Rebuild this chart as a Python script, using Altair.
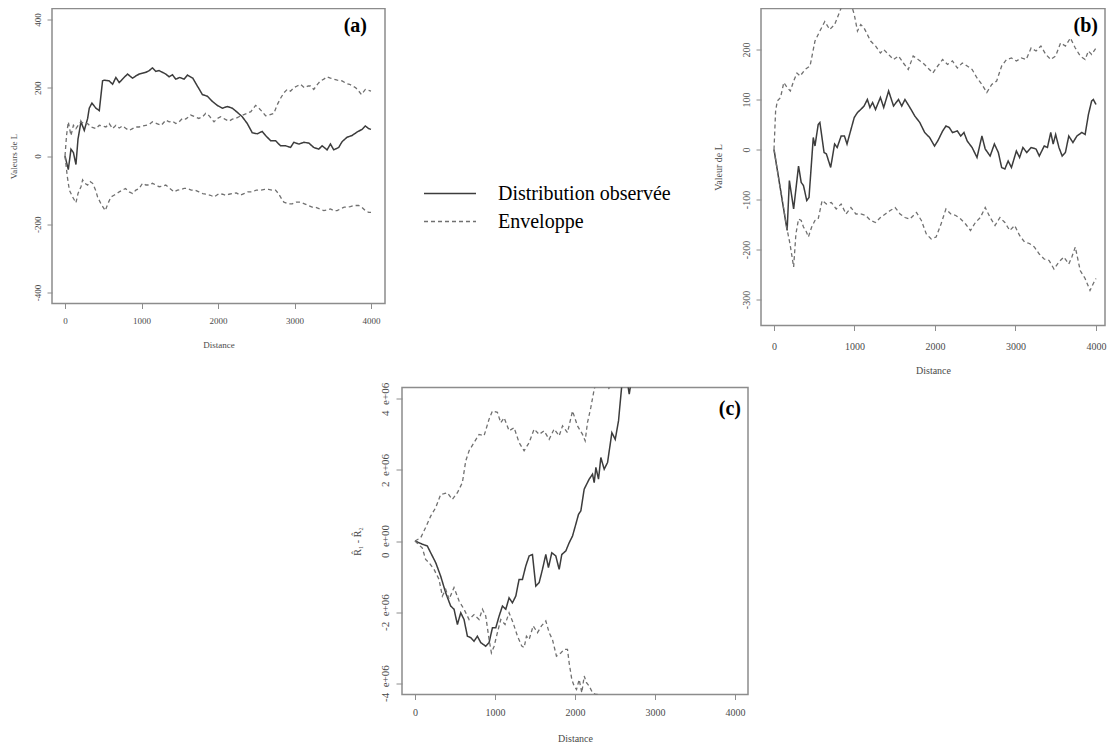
import altair as alt
import pandas as pd

# ---------------- Panel (a) ----------------
a_obs_d = [0, 43, 78, 110, 143, 170, 209, 252, 296, 317, 352, 404, 448, 491, 513, 578, 622, 665, 709, 750,
           817, 883, 930, 970, 1057, 1100, 1143, 1187, 1230, 1274, 1317, 1361, 1404, 1448, 1500, 1557, 1600, 1670, 1730, 1796,
           1861, 1926, 1991, 2057, 2122, 2187, 2252, 2317, 2383, 2448, 2513, 2578, 2622, 2687, 2752, 2817, 2883, 2948, 2991, 3057,
           3122, 3187, 3252, 3317, 3361, 3426, 3470, 3513, 3578, 3622, 3687, 3752, 3817, 3883, 3926, 3970, 4000]
a_obs_v = [0, -40, 20, 10, -25, 50, 100, 75, 110, 140, 155, 140, 133, 220, 222, 220, 210, 230, 215, 225,
           240, 228, 235, 240, 245, 250, 258, 248, 250, 245, 240, 232, 238, 225, 230, 225, 237, 228, 205, 180,
           175, 160, 148, 140, 145, 140, 128, 115, 95, 68, 65, 72, 60, 45, 45, 30, 30, 25, 40, 35,
           40, 38, 25, 20, 30, 18, 35, 18, 25, 42, 55, 60, 70, 78, 88, 80, 78]
a_up_d = [0, 20, 43, 78, 110, 143, 186, 209, 252, 296, 340, 404, 448, 491, 535, 578, 622, 665, 709, 752,
          800, 840, 883, 926, 970, 1013, 1057, 1100, 1143, 1200, 1260, 1317, 1361, 1404, 1448, 1491, 1535, 1578, 1643, 1700,
          1750, 1800, 1839, 1883, 1948, 1991, 2035, 2090, 2143, 2187, 2230, 2300, 2383, 2430, 2491, 2535, 2578, 2622, 2670, 2730,
          2774, 2820, 2861, 2905, 2948, 2991, 3035, 3078, 3130, 3180, 3209, 3252, 3300, 3340, 3383, 3426, 3470, 3513, 3560, 3622,
          3680, 3720, 3760, 3800, 3840, 3874, 3926, 3970, 4000]
a_up_v = [0, 60, 100, 60, 90, 80, 95, 100, 95, 95, 85, 80, 90, 88, 85, 95, 80, 90, 82, 88,
          80, 75, 80, 85, 85, 88, 90, 92, 100, 95, 90, 105, 100, 102, 95, 100, 110, 108, 120, 115,
          110, 115, 125, 118, 100, 110, 115, 108, 102, 108, 110, 118, 125, 130, 148, 140, 130, 118, 120, 125,
          150, 170, 185, 195, 190, 200, 205, 210, 200, 205, 205, 195, 210, 220, 225, 232, 228, 225, 222, 220,
          212, 210, 205, 200, 190, 180, 195, 192, 190]
a_lo_d = [0, 30, 57, 100, 143, 170, 209, 230, 260, 296, 330, 361, 400, 426, 470, 526, 560, 600, 640, 680,
          709, 750, 790, 840, 883, 926, 970, 1013, 1057, 1100, 1143, 1190, 1230, 1274, 1317, 1370, 1426, 1470, 1513, 1557,
          1600, 1650, 1700, 1750, 1800, 1839, 1900, 1948, 2013, 2060, 2100, 2143, 2187, 2240, 2290, 2340, 2390, 2448, 2500, 2557,
          2610, 2660, 2710, 2752, 2790, 2830, 2861, 2920, 2970, 3020, 3078, 3130, 3180, 3230, 3274, 3330, 3383, 3426, 3470, 3513,
          3557, 3600, 3650, 3687, 3730, 3780, 3839, 3880, 3926, 3970, 4000]
a_lo_v = [0, -60, -100, -120, -137, -110, -90, -70, -80, -85, -75, -80, -100, -120, -140, -160, -140, -120, -115, -110,
          -105, -100, -95, -105, -110, -100, -95, -80, -85, -85, -80, -85, -90, -88, -85, -95, -105, -100, -98, -95,
          -95, -100, -100, -105, -110, -112, -115, -120, -110, -112, -115, -112, -110, -108, -115, -110, -105, -105, -100, -100,
          -98, -98, -100, -100, -110, -125, -135, -140, -140, -135, -135, -140, -145, -150, -150, -155, -160, -158, -155, -160,
          -160, -155, -150, -150, -148, -145, -145, -150, -160, -165, -165]

# ---------------- Panel (b) ----------------
b_obs_d = [0, 163, 191, 244, 305, 338, 366, 407, 435, 488, 509, 549, 570, 622, 651, 704, 753, 785, 834, 875,
           907, 956, 997, 1037, 1078, 1119, 1160, 1192, 1225, 1261, 1322, 1363, 1424, 1485, 1546, 1587, 1627, 1688, 1749, 1811,
           1872, 1933, 1994, 2034, 2095, 2136, 2177, 2217, 2278, 2319, 2360, 2400, 2461, 2522, 2583, 2624, 2685, 2738, 2787, 2828,
           2868, 2909, 2950, 3011, 3051, 3092, 3140, 3194, 3255, 3296, 3357, 3397, 3438, 3468, 3499, 3540, 3580, 3620, 3662, 3714,
           3763, 3824, 3865, 3906, 3946, 3967, 4000]
b_obs_v = [0, -162, -62, -119, -33, -66, -72, -102, -96, 24, 7, 50, 54, -6, -9, -36, 11, 4, 27, 27,
           11, 40, 64, 74, 80, 87, 100, 84, 94, 80, 104, 84, 117, 87, 100, 87, 100, 84, 67, 54,
           34, 24, 7, 17, 37, 47, 44, 34, 37, 27, 34, 17, 4, -16, 27, 1, -13, 11, -6, -36,
           -39, -23, -36, -3, -16, 4, -6, 4, 1, -13, 7, 4, 34, 11, 30, 4, -13, -6, 27, 14,
           27, 34, 30, 70, 97, 100, 90]
b_up_d = [0, 20, 41, 81, 122, 163, 203, 244, 285, 325, 386, 448, 509, 570, 631, 692, 753, 793, 834, 900,
          960, 997, 1037, 1078, 1119, 1160, 1200, 1261, 1322, 1363, 1424, 1485, 1546, 1607, 1668, 1729, 1790, 1851, 1912, 1973,
          2034, 2095, 2156, 2217, 2278, 2339, 2400, 2461, 2522, 2583, 2644, 2705, 2766, 2828, 2889, 2950, 3011, 3072, 3133, 3194,
          3255, 3316, 3377, 3438, 3499, 3560, 3621, 3682, 3743, 3804, 3865, 3906, 3946, 4000]
b_up_v = [0, 77, 97, 104, 134, 124, 117, 137, 153, 147, 160, 167, 217, 237, 256, 240, 250, 266, 283, 295,
          290, 270, 237, 250, 243, 230, 217, 207, 193, 200, 190, 180, 187, 173, 160, 187, 180, 173, 163, 153,
          167, 180, 170, 177, 163, 173, 167, 160, 143, 130, 114, 130, 137, 167, 180, 183, 177, 183, 180, 203,
          197, 207, 190, 180, 187, 213, 207, 223, 203, 187, 180, 197, 190, 203]
b_lo_d = [0, 80, 163, 200, 244, 272, 305, 338, 366, 395, 427, 468, 509, 549, 598, 651, 712, 773, 834, 895,
          956, 1017, 1078, 1139, 1200, 1261, 1322, 1383, 1444, 1505, 1566, 1627, 1688, 1770, 1831, 1892, 1953, 2014, 2075, 2136,
          2197, 2258, 2319, 2380, 2441, 2502, 2563, 2624, 2685, 2746, 2807, 2868, 2929, 2990, 3051, 3112, 3173, 3234, 3295, 3356,
          3417, 3478, 3539, 3600, 3662, 3700, 3743, 3804, 3865, 3926, 3967, 4000]
b_lo_v = [0, -80, -160, -190, -235, -169, -139, -142, -155, -162, -175, -155, -142, -139, -102, -109, -106, -119, -109, -129,
          -116, -129, -129, -132, -142, -146, -136, -129, -122, -116, -129, -136, -139, -126, -142, -169, -179, -175, -149, -119,
          -129, -132, -139, -149, -162, -146, -136, -116, -136, -152, -136, -146, -162, -152, -172, -185, -188, -195, -209, -219,
          -222, -239, -225, -215, -229, -215, -195, -242, -258, -282, -268, -258]

# ---------------- Panel (c) (values in units of 1e+06) ----------------
c_obs_d = [0, 92, 154, 196, 259, 321, 384, 446, 488, 530, 572, 613, 655, 697, 738, 780, 822, 884, 926, 968,
           1010, 1052, 1093, 1135, 1176, 1218, 1260, 1301, 1343, 1385, 1427, 1468, 1510, 1552, 1593, 1635, 1668, 1710, 1760, 1802,
           1835, 1885, 1927, 1969, 2010, 2044, 2073, 2115, 2177, 2219, 2240, 2261, 2294, 2323, 2365, 2407, 2461, 2503, 2544, 2565,
           2590, 2640, 2678, 2710, 2780]
c_obs_v = [0, -0.09, -0.14, -0.33, -0.61, -0.99, -1.46, -1.83, -1.92, -2.35, -2.02, -2.21, -2.68, -2.72, -2.82, -2.68, -2.86, -2.96, -2.86, -2.44,
           -2.44, -2.11, -1.83, -1.92, -1.6, -1.74, -1.55, -1.08, -1.08, -0.70, -0.42, -0.38, -1.27, -1.17, -0.8, -0.38, -0.75, -0.33, -0.42, -0.8,
           -0.38, -0.28, -0.05, 0.14, 0.47, 0.75, 0.85, 1.46, 1.74, 1.88, 1.64, 2.07, 1.74, 2.35, 2.02, 2.21, 3.05, 2.86, 3.38, 3.9,
           4.5, 4.7, 4.13, 4.6, 5.3]
c_up_d = [0, 71, 133, 196, 259, 321, 363, 405, 467, 530, 592, 634, 676, 738, 801, 863, 926, 968, 1030, 1072,
          1114, 1176, 1239, 1301, 1364, 1427, 1489, 1552, 1614, 1677, 1739, 1802, 1844, 1906, 1969, 2031, 2094, 2127, 2156, 2198,
          2240, 2280, 2350, 2400, 2427, 2450, 2550]
c_up_v = [0, 0.09, 0.38, 0.7, 0.94, 1.31, 1.33, 1.36, 1.17, 1.36, 1.64, 2.25, 2.54, 2.77, 3.0, 2.96, 3.43, 3.66, 3.62, 3.33,
          3.47, 3.1, 3.19, 2.77, 2.54, 2.77, 3.15, 3.0, 3.1, 2.86, 3.15, 2.96, 3.24, 3.05, 3.66, 3.24, 3.0, 2.82, 3.33, 3.76,
          4.27, 4.6, 5.0, 4.6, 4.25, 4.6, 5.2]
c_lo_d = [0, 92, 133, 175, 238, 300, 342, 384, 426, 488, 551, 613, 676, 738, 801, 843, 884, 926, 955, 989,
          1030, 1072, 1126, 1176, 1226, 1281, 1335, 1364, 1393, 1427, 1477, 1531, 1581, 1635, 1677, 1718, 1768, 1823, 1864, 1906,
          1927, 1960, 1989, 2019, 2052, 2085, 2115, 2144, 2177, 2219, 2261, 2294, 2330]
c_lo_v = [0, -0.2, -0.52, -0.61, -0.8, -1.08, -1.55, -1.36, -1.64, -1.31, -1.69, -1.92, -2.21, -2.07, -2.21, -1.92, -2.11, -2.77, -3.15, -2.96,
          -2.58, -2.21, -2.35, -2.02, -2.3, -2.68, -2.96, -3.0, -2.68, -2.77, -2.39, -2.58, -2.39, -2.25, -2.58, -2.77, -3.24, -3.15, -3.05, -3.05,
          -3.43, -3.9, -4.08, -4.18, -3.9, -4.27, -3.8, -3.99, -4.08, -4.27, -4.32, -4.32, -4.6]

x_ticks = [0, 1000, 2000, 3000, 4000]
a_y_ticks = [-400, -200, 0, 200, 400]
b_y_ticks = [-300, -200, -100, 0, 100, 200]
c_y_ticks = [-4, -2, 0, 2, 4]

OBS = "Distribution observée"
ENV = "Enveloppe"
SERIF = "Liberation Serif"
AXC = "#8c8c8c"
TXT = "#4a4a4a"


def make_df(curves):
    rows = []
    for name, kind, ds, vs in curves:
        for d, v in zip(ds, vs):
            rows.append({"d": d, "v": v, "curve": name, "type": kind})
    return pd.DataFrame(rows)


def panel(df, xdom, ydom, w, h, yvals, ytitle, label, lab_dx, lab_dy, fs,
          xlab_pad, ylab_pad, ytick, ytitle_x, xtitle_y, ylab_expr, legend, yfs=None):
    dash_scale = alt.Scale(domain=[OBS, ENV], range=[[1, 0], [4, 3]])
    color_scale = alt.Scale(domain=[OBS, ENV], range=["#3c3c3c", "#707070"])
    width_scale = alt.Scale(domain=[OBS, ENV], range=[1.5, 1.3])
    xaxis = alt.Axis(values=x_ticks, title="Distance", domain=False, grid=False,
                     tickSize=5, tickColor=AXC, labelFont=SERIF, labelFontSize=fs,
                     labelColor=TXT, labelPadding=xlab_pad, labelFlush=False, labelOverlap=False,
                     labelExpr="'' + datum.value", titleFont=SERIF, titleFontSize=fs,
                     titleFontWeight="normal", titleColor=TXT, titleX=w / 2, titleY=xtitle_y,
                     titleAlign="center", titleBaseline="middle")
    yaxis = alt.Axis(values=yvals, title=ytitle, domain=False, grid=False,
                     tickSize=ytick, tickColor=AXC, labelFont=SERIF, labelFontSize=yfs or fs,
                     labelColor=TXT, labelPadding=ylab_pad, labelAngle=270, labelAlign="center",
                     labelBaseline="middle", labelFlush=False, labelOverlap=False, labelExpr=ylab_expr,
                     titleFont=SERIF, titleFontSize=fs, titleFontWeight="normal", titleColor=TXT,
                     titleAngle=270, titleX=ytitle_x, titleY=h / 2, titleAlign="center",
                     titleBaseline="middle")
    return alt.Chart(df).mark_line(clip=True).encode(
        x=alt.X("d:Q", scale=alt.Scale(domain=xdom, nice=False, zero=False), axis=xaxis),
        y=alt.Y("v:Q", scale=alt.Scale(domain=ydom, nice=False, zero=False), axis=yaxis),
        detail="curve:N",
        strokeDash=alt.StrokeDash("type:N", scale=dash_scale, legend=legend),
        color=alt.Color("type:N", scale=color_scale, legend=legend),
        strokeWidth=alt.StrokeWidth("type:N", scale=width_scale, legend=legend),
    ).properties(
        width=w, height=h,
        view=alt.ViewBackground(stroke=AXC, strokeWidth=1.5),
        title=alt.Title(label, anchor="end", frame="group", orient="top", offset=0,
                        baseline="alphabetic", dx=lab_dx, dy=lab_dy, fontSize=20,
                        font=SERIF, fontWeight="bold", color="black"),
    )


# custom stroke symbol: 4 units wide, scaled by sqrt(676)/2 = 13 -> 52 px long line
legend = alt.Legend(orient="none", legendX=384, legendY=171, title=None,
                    symbolType="M-2,0H2", symbolSize=676, labelFont=SERIF, labelFontSize=20,
                    labelColor="black", labelOffset=34, rowPadding=4, padding=0, labelLimit=400)

df_a = make_df([("obs", OBS, a_obs_d, a_obs_v), ("up", ENV, a_up_d, a_up_v), ("lo", ENV, a_lo_d, a_lo_v)])
df_b = make_df([("obs", OBS, b_obs_d, b_obs_v), ("up", ENV, b_up_d, b_up_v), ("lo", ENV, b_lo_d, b_lo_v)])
df_c = make_df([("obs", OBS, c_obs_d, c_obs_v), ("up", ENV, c_up_d, c_up_v), ("lo", ENV, c_lo_d, c_lo_v)])

plain = "'' + datum.value"
chart_a = panel(df_a, [-170, 4183], [-432, 432], 333, 295, a_y_ticks, "Valeurs de L", "(a)",
                -18, 43, 9, 8, 10, 5, -39, 40.5, plain, legend)
chart_b = panel(df_b, [-161.5, 4112], [-352, 282], 344, 317, b_y_ticks, "Valeur de L", "(b)",
                -7, 43.5, 10, 11, 9.5, 5, -43, 45, plain, None)
chart_c = panel(df_c, [-162.5, 4162.5], [-4.32, 4.32], 346, 307, c_y_ticks, "R\u0302\u2081 - R\u0302\u2082", "(c)",
                -7, 53, 10, 7.5, 10.5, 6, -45, 44,
                "datum.value == 0 ? '0\u2002e+00' : datum.value + '\u2002e+06'", None, yfs=11)


def spacer(w, h):
    return alt.Chart(pd.DataFrame({"s": [0]})).mark_point(opacity=0).properties(width=w, height=h)


ind = dict(strokeDash="independent", color="independent", strokeWidth="independent")

chart = alt.concat(
    chart_a, spacer(359, 1), chart_b,
    spacer(350, 1), chart_c,
    columns=3,
    spacing={"row": 62, "column": 0},
    bounds="flush",
    align={"row": "each", "column": "none"},
).resolve_scale(**ind).resolve_legend(**ind).properties(
    padding={"left": 0, "top": -2.5, "right": 0, "bottom": 0}
).configure_view(stroke="transparent")

chart.save("out.html", embed_options={"renderer": "svg", "actions": False})
